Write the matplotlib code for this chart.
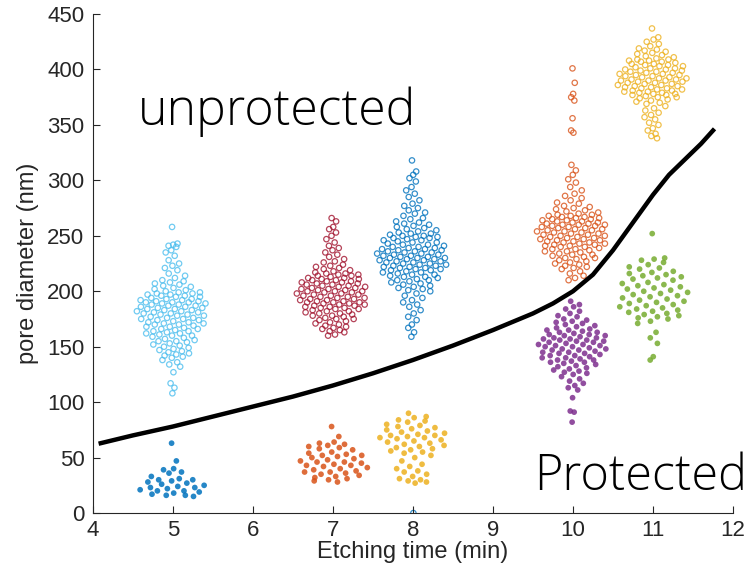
import numpy as np
import matplotlib.pyplot as plt

plt.rcParams['font.family'] = ['Liberation Sans', 'DejaVu Sans']
plt.rcParams['xtick.direction'] = 'in'
plt.rcParams['ytick.direction'] = 'in'

# etching time of each group (min)
times = [5, 5, 7, 7, 8, 8, 10, 10, 11, 11]
kinds = ['open', 'filled', 'open', 'filled', 'open', 'filled', 'open', 'filled', 'open', 'filled']
colors = ['#4DBEEE', '#0072BD', '#A2142F', '#D95319', '#0072BD',
          '#EDB120', '#D95319', '#7E2F8E', '#EDB120', '#77AC30']

# pore diameters (nm)
d5_open = [258, 243, 242, 241, 240, 237, 235, 232, 228, 225, 223, 221, 219, 216, 214, 212, 210,
           209, 208, 207, 206, 205, 204, 203, 202, 201, 200,
           199, 199, 198, 198, 197, 197, 196, 196, 195, 195, 194, 193, 193, 192, 192, 191, 191, 190, 190, 190,
           189, 189, 188, 188, 187, 187, 186, 186, 185, 185, 184, 184, 183, 183, 182, 182, 181, 181, 180, 180,
           179, 179, 178, 178, 177, 176, 176, 175, 175, 174, 174, 173, 172, 172, 171, 171, 170, 170,
           169, 168, 168, 167, 166, 166, 165, 164, 164, 163, 162, 162, 161, 160, 160,
           159, 158, 157, 156, 155, 155, 154, 153, 152, 151, 150,
           149, 148, 147, 146, 145, 144, 143, 142, 141, 140,
           138, 136, 134, 132, 127, 117, 113, 108]
d5_fill = [63, 47, 40, 39, 37, 36, 33, 31, 30, 30, 29, 28, 27, 26, 25, 24, 23, 23,
           22, 21, 20, 20, 19, 18, 17, 16, 16, 15]
d7_open = [266, 263, 258, 256, 253, 250, 247, 244, 241, 239, 237, 235, 233, 231, 229, 227, 226,
           224, 223, 222, 221, 220,
           219, 218, 217, 216, 216, 215, 215, 214, 214, 213, 212, 212, 211, 211, 210, 210,
           209, 209, 208, 208, 207, 207, 206, 206, 205, 205, 204, 204, 203, 203, 202, 202, 201, 201, 200, 200, 200,
           199, 199, 198, 198, 197, 197, 196, 196, 195, 195, 194, 194, 193, 193, 192, 192, 191, 191, 190, 190, 190,
           189, 189, 188, 188, 187, 187, 186, 186, 185, 185, 184, 184, 183, 182, 182, 181, 180, 180,
           179, 178, 178, 177, 176, 175, 175, 174, 173, 172, 171, 170,
           169, 168, 167, 166, 165, 164, 163, 161, 160]
d7_fill = [78, 69, 64, 63, 62, 61, 60, 59, 58, 57, 55, 54, 53, 52, 52, 51, 50, 49, 48, 47, 46, 46,
           45, 44, 43, 43, 42, 41, 40, 39, 38, 37, 37, 36, 35, 34, 33, 32, 31, 30, 29, 28]
d8_open = [318, 308, 305, 302, 299, 294, 291, 288, 285, 282, 279, 277, 275, 273, 271, 270, 268,
           266, 265, 263, 262, 261, 260,
           259, 258, 257, 256, 255, 254, 253, 252, 252, 251, 250, 250,
           249, 249, 248, 248, 247, 246, 246, 245, 244, 244, 243, 242, 242, 241, 240, 240,
           239, 239, 238, 238, 237, 237, 236, 236, 235, 235, 234, 234, 233, 233, 232, 232, 231, 231, 230, 230, 230,
           229, 229, 228, 228, 227, 227, 226, 226, 225, 225, 224, 224, 223, 223, 222, 222, 221, 221, 220, 220,
           219, 219, 218, 217, 217, 216, 215, 215, 214, 213, 213, 212, 211, 210, 210,
           209, 208, 207, 206, 205, 204, 203, 202, 201, 200,
           198, 196, 194, 192, 190, 188, 186, 183, 180, 177, 174, 170, 167, 163, 159, 0]
d8_fill = [90, 87, 86, 84, 83, 82, 80, 79, 78, 77, 76, 75, 74, 73, 72, 71, 70, 70, 69, 68, 68,
           67, 66, 65, 64, 63, 62, 61, 60, 59, 58, 57, 56, 55, 54, 52, 50, 47, 44, 42, 40, 38,
           37, 35, 33, 31, 30, 29, 28, 27]
d10_open = [401, 388, 378, 375, 372, 356, 345, 343, 314, 309, 305, 301, 298, 294, 291, 288, 286,
            284, 282, 280, 279, 277, 276, 275, 274, 273, 272, 271, 270,
            269, 269, 268, 268, 267, 267, 266, 266, 265, 265, 264, 264, 263, 263, 262, 262, 261, 261, 260, 260, 260,
            259, 259, 258, 258, 257, 257, 256, 256, 255, 255, 254, 254, 253, 253, 252, 252, 251, 251, 250, 250,
            249, 249, 248, 248, 247, 247, 246, 246, 245, 245, 244, 244, 243, 243, 242, 242, 241, 241, 240, 240,
            239, 238, 238, 237, 236, 236, 235, 234, 233, 233, 232, 231, 230, 230,
            229, 228, 227, 226, 225, 224, 223, 222, 221, 220,
            218, 216, 214, 212, 210]
d10_fill = [191, 188, 186, 184, 182, 180, 178, 177, 175, 174, 173, 172, 171, 170,
            169, 168, 167, 166, 165, 165, 164, 163, 163, 162, 161, 161, 160, 160,
            159, 158, 158, 157, 157, 156, 156, 155, 155, 154, 154, 153, 152, 152, 151, 151, 150, 150,
            149, 148, 148, 147, 147, 146, 145, 145, 144, 144, 143, 142, 142, 141, 140, 140,
            139, 138, 138, 137, 136, 136, 135, 134, 133, 132, 131, 130,
            129, 128, 127, 126, 125, 123, 121, 119, 117, 115, 113, 111, 104, 92, 91, 82]
d11_open = [437, 429, 427, 425, 423, 421, 419, 418, 417, 416, 415, 414, 413, 412, 411, 410,
            409, 409, 408, 408, 407, 407, 406, 405, 405, 404, 404, 403, 403, 402, 401, 401, 400, 400,
            399, 399, 398, 398, 397, 397, 396, 396, 395, 395, 394, 394, 393, 393, 392, 392, 391, 391, 390, 390, 390,
            389, 389, 388, 388, 387, 387, 386, 386, 385, 385, 384, 384, 383, 383, 382, 382, 381, 381, 380, 380,
            379, 379, 378, 378, 377, 377, 376, 375, 375, 374, 373, 372, 371, 370,
            369, 367, 365, 363, 361, 359, 357, 355, 352, 350, 347, 345, 342, 340, 338]
d11_fill = [252, 230, 229, 228, 226, 224, 222, 221, 220, 218, 217, 216, 215, 214, 213, 212, 211, 210,
            208, 207, 206, 205, 204, 203, 202, 201, 200, 199, 198, 197, 196, 195,
            194, 193, 192, 191, 190, 189, 188, 187, 186, 185, 184, 183, 182, 181,
            180, 179, 178, 177, 176, 175, 173, 171, 163, 158, 153, 141, 138]

groups = [d5_open, d5_fill, d7_open, d7_fill, d8_open, d8_fill,
          d10_open, d10_fill, d11_open, d11_fill]

# boundary curve (hand-drawn separator)
curve_t = [4.1, 4.5, 5.0, 5.5, 6.0, 6.5, 7.0, 7.5, 8.0, 8.5, 9.0, 9.5, 9.75,
           10.0, 10.25, 10.5, 10.75, 11.0, 11.2, 11.4, 11.6, 11.75]
curve_d = [63, 70, 78, 87, 96, 105, 115, 126, 138, 151, 165, 180, 189,
           200, 215, 237, 262, 287, 305, 319, 333, 345]


def swarm_offsets(y, width=0.45):
    # density-scaled jitter, deterministic (golden-ratio sequence)
    y = np.asarray(y, float)
    bw = max(np.std(y) * 0.35, 4.0)
    dens = np.exp(-0.5 * ((y[:, None] - y[None, :]) / bw) ** 2).sum(axis=1)
    dens = dens / dens.max()
    u = (np.arange(len(y)) * 0.6180339887 + 0.3) % 1.0 * 2 - 1
    return width * dens * u


fig = plt.figure(figsize=(7.48, 5.85), dpi=100)
ax = fig.add_axes([0.124, 0.123, 0.856, 0.853])

for t, kind, c, vals in zip(times, kinds, colors, groups):
    xs = t + swarm_offsets(vals)
    if kind == 'open':
        ax.scatter(xs, vals, s=15, facecolors='none', edgecolors=c, linewidths=0.9, alpha=0.8)
    else:
        ax.scatter(xs, vals, s=17, color=c, edgecolors='none', alpha=0.85)

ax.plot(curve_t, curve_d, color='black', lw=3.2, solid_joinstyle='round')

ax.text(4.56, 350, 'unprotected', fontsize=36, family=['Open Sans', 'DejaVu Sans'],
        fontweight='light', color='black')
ax.text(9.52, 21, 'Protected', fontsize=35, family=['Open Sans', 'DejaVu Sans'],
        fontweight='light', color='black', clip_on=False)

ax.set_xlim(4, 12)
ax.set_ylim(0, 450)
ax.set_xticks(range(4, 13))
ax.set_yticks(range(0, 451, 50))
ax.set_xlabel('Etching time (min)', fontsize=17, color='#262626', labelpad=0)
ax.set_ylabel('pore diameter (nm)', fontsize=17, color='#262626', labelpad=6)
ax.tick_params(labelsize=16, colors='#262626', length=5, width=0.8, pad=6)
ax.tick_params(axis='x', pad=5)
for side in ('top', 'right'):
    ax.spines[side].set_visible(False)
for side in ('left', 'bottom'):
    ax.spines[side].set_color('#262626')
    ax.spines[side].set_linewidth(0.8)

fig.savefig('out.png', dpi=100)
